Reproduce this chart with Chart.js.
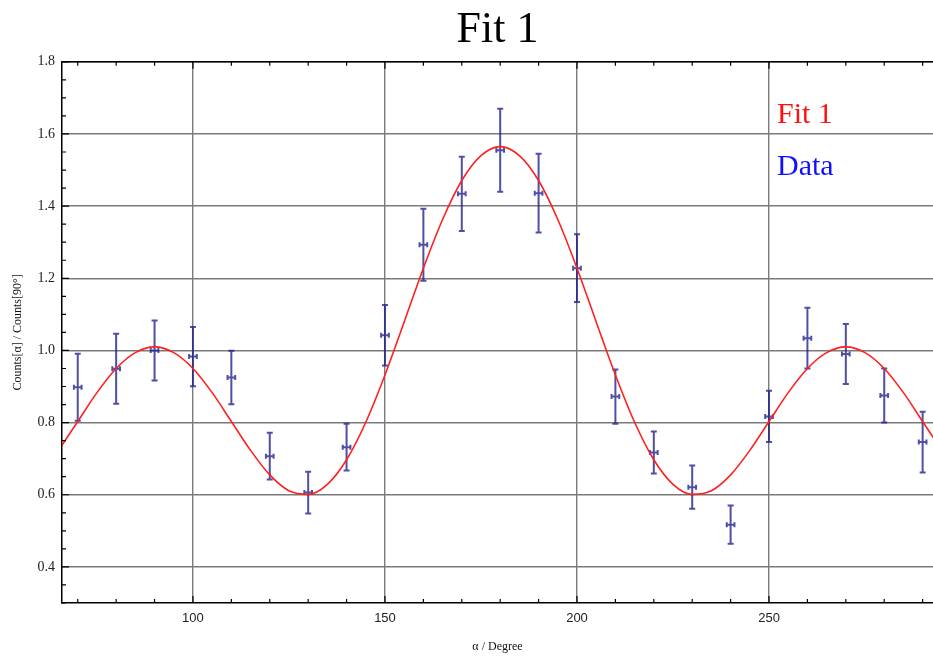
<!DOCTYPE html>
<html>
<head>
<meta charset="utf-8">
<title>Fit 1</title>
<script src="https://cdn.jsdelivr.net/npm/chart.js@4.4.1/dist/chart.umd.min.js"></script>
<style>
  html, body { margin: 0; padding: 0; background: #fff; }
  #wrap { width: 933px; height: 662px; }
</style>
</head>
<body>
<div id="wrap"><canvas id="fitChart"></canvas></div>
<script>
// measured points
const angles = [70, 80, 90, 100, 110, 120, 130, 140, 150, 160, 170, 180, 190, 200, 210, 220, 230, 240, 250, 260, 270, 280, 290];
const ratios = [0.898, 0.949, 1.000, 0.983, 0.925, 0.707, 0.606, 0.732, 1.042, 1.293, 1.434, 1.555, 1.436, 1.228, 0.872, 0.717, 0.621, 0.517, 0.817, 1.034, 0.990, 0.875, 0.746];
const ratioErr = [0.093, 0.097, 0.083, 0.082, 0.074, 0.065, 0.058, 0.065, 0.084, 0.100, 0.103, 0.115, 0.109, 0.094, 0.075, 0.058, 0.060, 0.053, 0.071, 0.084, 0.083, 0.075, 0.084];
const angleErr = 1;

// fit curve, every 5 degrees
const fitAngles = [65, 70, 75, 80, 85, 90, 95, 100, 105, 110, 115, 120, 125, 130, 135, 140, 145, 150, 155, 160, 165, 170, 175, 180, 185, 190, 195, 200, 205, 210, 215, 220, 225, 230, 235, 240, 245, 250, 255, 260, 265, 270, 275, 280, 285, 290, 295];
const fitValues = [0.723, 0.803, 0.883, 0.950, 0.994, 1.010, 0.994, 0.950, 0.883, 0.803, 0.723, 0.655, 0.611, 0.601, 0.629, 0.697, 0.801, 0.932, 1.079, 1.228, 1.363, 1.471, 1.540, 1.565, 1.540, 1.471, 1.363, 1.228, 1.079, 0.932, 0.801, 0.697, 0.629, 0.601, 0.611, 0.655, 0.723, 0.803, 0.883, 0.950, 0.994, 1.010, 0.994, 0.950, 0.883, 0.803, 0.723];

const legendItems = ['Fit 1', 'Data'];
const legendColors = ['#ff1010', '#1010ff'];

const errorBars = {
    id: 'errorBars',
    beforeDatasetsDraw(chart) {
        const xs = chart.scales.x;
        const ys = chart.scales.y;
        const ctx = chart.ctx;
        ctx.save();
        ctx.strokeStyle = 'rgba(30, 30, 140, 0.78)';
        ctx.lineWidth = 2;
        angles.forEach(function (a, i) {
            const px = xs.getPixelForValue(a);
            const py = ys.getPixelForValue(ratios[i]);
            const top = ys.getPixelForValue(ratios[i] + ratioErr[i]);
            const bot = ys.getPixelForValue(ratios[i] - ratioErr[i]);
            const left = xs.getPixelForValue(a - angleErr);
            const right = xs.getPixelForValue(a + angleErr);
            ctx.beginPath();
            ctx.moveTo(px, top); ctx.lineTo(px, bot);
            ctx.moveTo(px - 3, top); ctx.lineTo(px + 3, top);
            ctx.moveTo(px - 3, bot); ctx.lineTo(px + 3, bot);
            ctx.moveTo(left, py); ctx.lineTo(right, py);
            ctx.moveTo(left, py - 2.5); ctx.lineTo(left, py + 2.5);
            ctx.moveTo(right, py - 2.5); ctx.lineTo(right, py + 2.5);
            ctx.stroke();
        });
        ctx.restore();
    }
};

// frame on top + inward ticks, and the legend text inside the plot
const frameAndLegend = {
    id: 'frameAndLegend',
    afterDraw(chart) {
        const xs = chart.scales.x;
        const ys = chart.scales.y;
        const area = chart.chartArea;
        const ctx = chart.ctx;
        ctx.save();
        ctx.strokeStyle = '#000';
        ctx.lineWidth = 1.5;
        ctx.beginPath();
        ctx.moveTo(area.left, area.top);
        ctx.lineTo(area.right, area.top);
        ctx.stroke();

        ctx.lineWidth = 1.2;
        ctx.beginPath();
        for (let v = Math.ceil(xs.min / 10) * 10; v <= xs.max; v += 10) {
            const px = xs.getPixelForValue(v);
            const len = v % 50 === 0 ? 7 : 4;
            ctx.moveTo(px, area.bottom); ctx.lineTo(px, area.bottom - len);
            ctx.moveTo(px, area.top); ctx.lineTo(px, area.top + len);
        }
        for (let k = Math.ceil(ys.min * 20); k <= ys.max * 20 + 0.01; k++) {
            const py = ys.getPixelForValue(k / 20);
            const len = k % 4 === 0 ? 7 : 4;
            ctx.moveTo(area.left, py); ctx.lineTo(area.left + len, py);
        }
        ctx.stroke();

        ctx.font = '30px "Liberation Serif", "Times New Roman", serif';
        ctx.textBaseline = 'alphabetic';
        ctx.textAlign = 'left';
        legendItems.forEach(function (t, i) {
            ctx.fillStyle = legendColors[i];
            ctx.fillText(t, 777, 123 + i * 52);
        });
        ctx.restore();
    }
};

document.addEventListener('DOMContentLoaded', function () {
    const ctx = document.getElementById('fitChart');
    new Chart(ctx, {
        data: {
            datasets: [{
                type: 'line',
                label: 'Fit 1',
                data: fitAngles.map((a, i) => ({ x: a, y: fitValues[i] })),
                borderColor: '#ff2020',
                borderWidth: 1.6,
                pointRadius: 0,
                cubicInterpolationMode: 'monotone',
                fill: false
            }, {
                type: 'scatter',
                label: 'Data',
                data: angles.map((a, i) => ({ x: a, y: ratios[i] })),
                pointRadius: 0,
                showLine: false
            }]
        },
        options: {
            responsive: true,
            maintainAspectRatio: false,
            animation: false,
            layout: { padding: 0 },
            plugins: {
                legend: { display: false },
                tooltip: { enabled: false },
                title: {
                    display: true,
                    text: 'Fit 1',
                    fullSize: false,
                    color: '#000',
                    font: { family: '"Liberation Serif", serif', size: 44, weight: 'normal' },
                    padding: { top: 4, bottom: 5 }
                }
            },
            scales: {
                x: {
                    type: 'linear',
                    min: 65.9,
                    max: 292.7,
                    afterFit: function (s) { s.height = 59; },
                    ticks: {
                        stepSize: 50,
                        includeBounds: false,
                        padding: 8,
                        color: '#222',
                        font: { family: '"Liberation Sans", sans-serif', size: 13 },
                        callback: v => v
                    },
                    grid: { color: '#7a7a7a', lineWidth: 1.4, drawTicks: false },
                    border: { display: true, color: '#000', width: 1.5 },
                    title: {
                        display: true,
                        text: 'α / Degree',
                        color: '#111',
                        font: { family: '"Liberation Serif", serif', size: 12 },
                        padding: { top: 0, bottom: 8 }
                    }
                },
                y: {
                    min: 0.3,
                    max: 1.8,
                    afterFit: function (s) { s.width = 62; },
                    ticks: {
                        stepSize: 0.2,
                        includeBounds: false,
                        padding: 7,
                        color: '#222',
                        font: { family: '"Liberation Serif", serif', size: 14 },
                        callback: v => v.toFixed(1)
                    },
                    grid: { color: '#7a7a7a', lineWidth: 1.4, drawTicks: false },
                    border: { display: true, color: '#000', width: 1.5 },
                    title: {
                        display: true,
                        text: 'Counts[α] / Counts[90°]',
                        color: '#111',
                        font: { family: '"Liberation Serif", serif', size: 12 },
                        padding: { top: 11, bottom: 0 }
                    }
                }
            }
        },
        plugins: [errorBars, frameAndLegend]
    });
});
</script>
</body>
</html>
